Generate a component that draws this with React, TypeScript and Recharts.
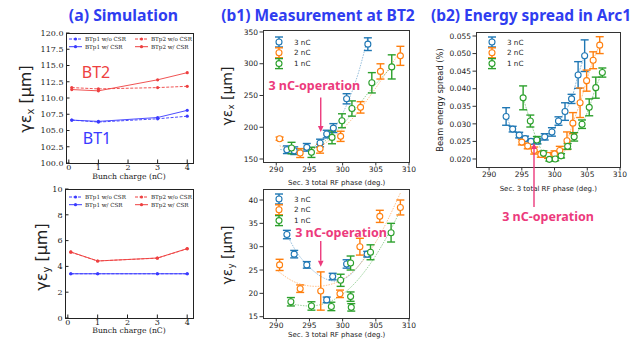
import React from 'react'
import {
  ComposedChart, Line, Scatter, ErrorBar, XAxis, YAxis, ReferenceLine,
} from 'recharts'

const W = 644
const H = 341

// ---- (a) simulation, x = bunch charge (nC)
const charge = [0.1, 1, 3, 4]
const exBT1NoCsr = [106.6, 106.3, 106.8, 107.2]
const exBT1Csr = [106.6, 106.4, 107.0, 108.1]
const exBT2NoCsr = [111.6, 111.4, 111.6, 111.8]
const exBT2Csr = [111.3, 111.1, 112.8, 113.9]
const eyBT1NoCsr = [3.43, 3.43, 3.43, 3.43]
const eyBT1Csr = [3.43, 3.43, 3.43, 3.43]
const eyBT2NoCsr = [5.1, 4.42, 4.64, 5.36]
const eyBT2Csr = [5.12, 4.42, 4.65, 5.38]

const aXTicks = [0, 1, 2, 3, 4]
const aTopYTicks = [100, 102.5, 105, 107.5, 110, 112.5, 115, 117.5, 120]
const aBotYTicks = [0, 2, 4, 6, 8, 10]

// ---- (b1) measured emittance at BT2, x = Sec. 3 total RF phase (deg.)
const phaseTicks = [290, 295, 300, 305, 310]
const exTicks = [150, 200, 250, 300, 350]
const eyTicks = [15, 20, 25, 30, 35, 40]
const dETicks = [0.02, 0.025, 0.03, 0.035, 0.04, 0.045, 0.05, 0.055]

const ex3Phase = [291.6, 292.7, 294.6, 296.6, 297.6, 298.6, 300.6, 303.8]
const ex3Val = [164.6, 163.1, 168.4, 175.2, 189.3, 198.7, 244.8, 330.8]
const ex3Err = [6, 6, 6, 6, 6, 7, 8, 10]
const ex2Phase = [290.5, 293.6, 296.6, 299.7, 302.7, 305.7, 308.7]
const ex2Val = [182, 159.4, 166.2, 185.7, 231.3, 287.9, 312.4]
const ex2Err = [2.5, 7, 7, 8, 9, 12, 15]
const ex1Phase = [292.3, 295.3, 298.4, 299.9, 301.4, 304.4, 307.4]
const ex1Val = [167.3, 160.5, 184, 210.2, 229.5, 270, 295]
const ex1Err = [9, 8, 10, 11, 12, 16, 19]

const ex3FitPhase = [290.6, 293, 295, 297, 299, 301, 302.5, 303.8]
const ex3FitVal = [165, 163, 167, 178, 203, 245, 290, 342]
const ex2FitPhase = [290.5, 293, 296, 299, 302, 305, 308.8]
const ex2FitVal = [171, 164, 168, 188, 220, 262, 322]
const ex1FitPhase = [292, 295, 298, 301, 304, 307.7]
const ex1FitVal = [165, 165, 184, 216, 256, 298]

const ey3Phase = [291.6, 292.7, 294.6, 297.6, 298.5, 300.6, 303.7]
const ey3Val = [32.6, 28.4, 26.1, 18.6, 23.6, 26.3, 28.4]
const ey3Err = [0.9, 0.8, 0.7, 0.6, 0.7, 0.9, 0.6]
const ey2Phase = [290.5, 293.6, 296.7, 299.6, 302.6, 305.6, 308.7]
const ey2Val = [26.1, 21.0, 20.5, 19.9, 30.0, 36.5, 38.4]
const ey2Err = [1.2, 0.8, 4.1, 0.8, 1.8, 1.3, 1.6]
const ey1Phase = [292.2, 295.3, 298.3, 299.7, 301.2, 301.2, 301.3, 304.2, 307.3]
const ey1Val = [18.2, 17.3, 17.2, 22.8, 26.5, 19.3, 17.0, 28.8, 33.0]
const ey1Err = [0.9, 0.9, 0.9, 1.3, 1.5, 1.0, 0.8, 1.6, 2.0]

const ey3FitPhase = [291.3, 293, 295, 297, 299, 301, 303.5]
const ey3FitVal = [33.5, 29.0, 25.6, 23.4, 22.6, 23.8, 28.0]
const ey2FitPhase = [290.3, 293, 296, 299, 302, 305, 308.7]
const ey2FitVal = [24.7, 22.3, 21.5, 22.3, 25.3, 31, 41.5]
const ey1FitPhase = [292, 295, 298, 301, 304, 307, 308.6]
const ey1FitVal = [17.8, 17.3, 18.2, 21.0, 26.0, 33.0, 37.5]

// ---- (b2) energy spread in Arc1 (%)
const de3Phase = [292.6, 293.6, 294.6, 295.5, 296.4, 297.4, 298.5, 299.6, 300.6, 301.6, 302.6, 303.6, 304.6]
const de3Val = [0.0321, 0.0285, 0.0268, 0.0258, 0.025, 0.0251, 0.0263, 0.0277, 0.0308, 0.0335, 0.0371, 0.0439, 0.0494]
const de3Err = [0.0025, 0.0008, 0.0008, 0.0007, 0.0007, 0.0008, 0.0009, 0.0012, 0.0012, 0.0025, 0.0013, 0.0038, 0.0045]
const de2Phase = [295.0, 295.9, 296.9, 297.9, 299.0, 300.0, 300.8, 301.9, 302.8, 303.9, 304.9, 305.9, 306.9]
const de2Val = [0.0248, 0.0237, 0.0224, 0.0213, 0.021, 0.0214, 0.0224, 0.0252, 0.0302, 0.036, 0.0423, 0.0481, 0.0524]
const de2Err = [0.0008, 0.0008, 0.001, 0.0008, 0.0008, 0.0009, 0.0012, 0.0025, 0.003, 0.0042, 0.003, 0.0024, 0.0024]
const de1Phase = [295.2, 296.3, 297.3, 298.3, 299.2, 300.1, 301.0, 302.0, 303.0, 304.2, 305.3, 306.3, 307.3]
const de1Val = [0.0374, 0.0308, 0.0254, 0.0216, 0.0199, 0.02, 0.0209, 0.0236, 0.0263, 0.0299, 0.0347, 0.0403, 0.0446]
const de1Err = [0.0034, 0.0017, 0.001, 0.0007, 0.0005, 0.0005, 0.0006, 0.0008, 0.0012, 0.0012, 0.0024, 0.003, 0.0013]

// 3 nC operating point arrows
const opPhaseB1 = 296.7

const BLUE_A = '#3a3aff'
const RED_A = '#ee4040'
const C3 = '#1f77b4'
const C2 = '#ff7f0e'
const C1 = '#2ca02c'
const PINK = '#ec3a7c'
const TITLE = '#2f3df0'

type Box = { l: number; t: number; r: number; b: number }
const fA1: Box = { l: 66, t: 33, r: 193, b: 163 }
const fA2: Box = { l: 65, t: 189, r: 193, b: 318 }
const fB1: Box = { l: 263, t: 30, r: 409, b: 162 }
const fB2: Box = { l: 263, t: 189, r: 409, b: 318 }
const fC: Box = { l: 476, t: 32, r: 620, b: 167 }

const YW = 30
const XH = 20
const margin = (f: Box) => ({ left: f.l - YW, top: f.t, right: W - f.r, bottom: H - f.b - XH })

const pts = (xs: number[], ys: number[], es?: number[]) =>
  xs.map((x, i) => ({ x, y: ys[i], e: es ? es[i] : 0 }))

const rowsA = (a: number[], b: number[], c: number[], d: number[]) =>
  charge.map((x, i) => ({ x, p1n: a[i], p1c: b[i], p2n: c[i], p2c: d[i] }))

const serifTick = { fontSize: 8, fill: '#222', fontFamily: 'DejaVu Serif' }
const sansTick = { fontSize: 7.5, fill: '#222', fontFamily: 'DejaVu Sans' }

const ring = (color: string) => (p: any) => (
  <circle cx={p.cx} cy={p.cy} r={3} fill="#fff" stroke={color} strokeWidth={1.1} />
)

const arrowPath = (x1: number, y1: number, x2: number, y2: number) => {
  const dir = y2 > y1 ? 1 : -1
  const base = y2 - dir * 6
  return (
    <g>
      <line x1={x1} y1={y1} x2={x2} y2={base} stroke={PINK} strokeWidth={1.4} />
      <polygon points={`${x2},${y2} ${x2 - 2.8},${base} ${x2 + 2.8},${base}`} fill={PINK} />
    </g>
  )
}
const arrow = (p: any) => arrowPath(p.x1, p.y1, p.x2, p.y2)

function Abs({ children }: { children: React.ReactNode }) {
  return <div style={{ position: 'absolute', left: 0, top: 0 }}>{children}</div>
}

function Frame({ f, color }: { f: Box; color: string }) {
  return (
    <div
      style={{
        position: 'absolute', left: f.l, top: f.t, width: f.r - f.l + 1, height: f.b - f.t + 1,
        border: `1px solid ${color}`, boxSizing: 'border-box', pointerEvents: 'none',
      }}
    />
  )
}

function Txt(props: {
  x: number; y: number; size: number; color?: string; weight?: number; family?: string; rot?: boolean
  children: React.ReactNode
}) {
  const { x, y, size, color = '#222', weight = 400, family = 'DejaVu Sans', rot } = props
  return (
    <div
      style={{
        position: 'absolute', left: x, top: y, fontSize: size, color, fontWeight: weight, fontFamily: family,
        lineHeight: 1, whiteSpace: 'nowrap',
        transform: `translate(-50%, -50%)${rot ? ' rotate(-90deg)' : ''}`,
      }}
    >
      {props.children}
    </div>
  )
}

function Emit({ axis }: { axis: string }) {
  return (
    <span>
      γε<sub style={{ fontSize: '0.62em', verticalAlign: '-0.25em' }}>{axis}</sub> [μm]
    </span>
  )
}

function SimPanel({ f, rows, domain, ticks, fmt }: {
  f: Box; rows: any[]; domain: [number, number]; ticks: number[]; fmt: (v: number) => string
}) {
  const lines = [
    { k: 'p1n', c: BLUE_A, dash: '3 1.5' },
    { k: 'p2n', c: RED_A, dash: '3 1.5' },
    { k: 'p1c', c: BLUE_A, dash: undefined },
    { k: 'p2c', c: RED_A, dash: undefined },
  ]
  return (
    <Abs>
      <ComposedChart width={W} height={H} data={rows} margin={margin(f)}>
        <XAxis type="number" dataKey="x" domain={[-0.095, 4.195]} ticks={aXTicks} allowDataOverflow
          axisLine={false} tickSize={-3.5} tickMargin={4.5} stroke="#222" tick={serifTick} height={XH} />
        <YAxis type="number" domain={domain} ticks={ticks} allowDataOverflow tickFormatter={fmt}
          axisLine={false} tickSize={-3.5} tickMargin={6} stroke="#222" tick={serifTick} width={YW} />
        {/* mirrored inward ticks on the top and right spines */}
        <XAxis xAxisId="top" orientation="top" type="number" dataKey="x" domain={[-0.095, 4.195]} ticks={aXTicks}
          allowDataOverflow axisLine={false} tickSize={-3.5} tickFormatter={() => ''} stroke="#222" height={0} />
        <YAxis yAxisId="right" orientation="right" type="number" domain={domain} ticks={ticks} allowDataOverflow
          axisLine={false} tickSize={-3.5} tickFormatter={() => ''} stroke="#222" width={0} />
        <Line xAxisId="top" yAxisId="right" dataKey="p1n" stroke="none" dot={false} isAnimationActive={false} />
        {lines.map((l) => (
          <Line key={l.k} dataKey={l.k} stroke={l.c} strokeWidth={1} strokeDasharray={l.dash} strokeOpacity={0.9}
            dot={{ r: 1.6, fill: l.c, stroke: l.c, strokeWidth: 0 }} isAnimationActive={false} />
        ))}
      </ComposedChart>
    </Abs>
  )
}

type Series = { color: string; data: { x: number; y: number; e: number }[]; fit: { x: number; y: number; e: number }[] }

function PhasePanel({ f, domain, ticks, fmt, series, arrowSeg, fitDash }: {
  f: Box; domain: [number, number]; ticks: number[]; fmt?: (v: number) => string
  series: Series[]; arrowSeg?: { x: number; y: number }[]; fitDash: string
}) {
  return (
    <Abs>
      <ComposedChart width={W} height={H} margin={margin(f)}>
        <XAxis type="number" dataKey="x" domain={[288, 310]} ticks={phaseTicks} allowDataOverflow
          axisLine={false} tickSize={3.5} tickMargin={1.5} stroke="#333" tick={sansTick} height={XH} />
        <YAxis type="number" dataKey="y" domain={domain} ticks={ticks} allowDataOverflow tickFormatter={fmt}
          axisLine={false} tickSize={3.5} tickMargin={1.5} stroke="#333" tick={sansTick} width={YW} />
        {series.map((s, i) => (
          <Line key={'f' + i} data={s.fit} dataKey="y" type="monotone" stroke={s.color} strokeOpacity={0.6}
            strokeWidth={0.8} strokeDasharray={fitDash} dot={false} isAnimationActive={false} />
        ))}
        {series.map((s, i) => (
          <Scatter key={'s' + i} data={s.data} dataKey="y" shape={ring(s.color)} isAnimationActive={false}>
            <ErrorBar dataKey="e" direction="y" width={4} stroke={s.color} strokeWidth={1.4} />
          </Scatter>
        ))}
        {arrowSeg && <ReferenceLine segment={arrowSeg} ifOverflow="visible" shape={arrow} />}
      </ComposedChart>
    </Abs>
  )
}

function ErrLegend({ x, y }: { x: number; y: number }) {
  const items = [
    { c: C3, t: '3 nC' },
    { c: C2, t: '2 nC' },
    { c: C1, t: '1 nC' },
  ]
  return (
    <svg style={{ position: 'absolute', left: x, top: y, overflow: 'visible' }} width={50} height={36}>
      {items.map((it, i) => {
        const cy = 5 + i * 10.8
        return (
          <g key={it.t}>
            <line x1={5} x2={5} y1={cy - 5} y2={cy + 5} stroke={it.c} strokeWidth={1.4} />
            <line x1={1} x2={9} y1={cy - 5} y2={cy - 5} stroke={it.c} strokeWidth={1.4} />
            <line x1={1} x2={9} y1={cy + 5} y2={cy + 5} stroke={it.c} strokeWidth={1.4} />
            <circle cx={5} cy={cy} r={3} fill="#fff" stroke={it.c} strokeWidth={1.1} />
            <text x={20} y={cy + 2.6} fontSize={7.2} fontFamily="DejaVu Sans" fill="#222">{it.t}</text>
          </g>
        )
      })}
    </svg>
  )
}

function SimLegend({ x, y }: { x: number; y: number }) {
  const items = [
    { c: BLUE_A, dash: '3 1.5', t: 'BTp1 w/o CSR', cx: 0, cy: 0 },
    { c: RED_A, dash: '3 1.5', t: 'BTp2 w/o CSR', cx: 66, cy: 0 },
    { c: BLUE_A, dash: undefined, t: 'BTp1 w/ CSR', cx: 0, cy: 7.7 },
    { c: RED_A, dash: undefined, t: 'BTp2 w/ CSR', cx: 66, cy: 7.7 },
  ]
  return (
    <svg style={{ position: 'absolute', left: x, top: y, overflow: 'visible' }} width={130} height={14}>
      {items.map((it) => (
        <g key={it.t}>
          <line x1={it.cx} x2={it.cx + 13} y1={it.cy} y2={it.cy} stroke={it.c} strokeWidth={1} strokeDasharray={it.dash} />
          <circle cx={it.cx + 6.5} cy={it.cy} r={1.6} fill={it.c} />
          <text x={it.cx + 16} y={it.cy + 2} fontSize={5.6} fontFamily="DejaVu Serif" fill="#222">{it.t}</text>
        </g>
      ))}
    </svg>
  )
}

export default function App() {
  const b1Top: Series[] = [
    { color: C3, data: pts(ex3Phase, ex3Val, ex3Err), fit: pts(ex3FitPhase, ex3FitVal) },
    { color: C2, data: pts(ex2Phase, ex2Val, ex2Err), fit: pts(ex2FitPhase, ex2FitVal) },
    { color: C1, data: pts(ex1Phase, ex1Val, ex1Err), fit: pts(ex1FitPhase, ex1FitVal) },
  ]
  const b1Bot: Series[] = [
    { color: C3, data: pts(ey3Phase, ey3Val, ey3Err), fit: pts(ey3FitPhase, ey3FitVal) },
    { color: C2, data: pts(ey2Phase, ey2Val, ey2Err), fit: pts(ey2FitPhase, ey2FitVal) },
    { color: C1, data: pts(ey1Phase, ey1Val, ey1Err), fit: pts(ey1FitPhase, ey1FitVal) },
  ]
  const b2: Series[] = [
    { color: C3, data: pts(de3Phase, de3Val, de3Err), fit: pts(de3Phase, de3Val) },
    { color: C2, data: pts(de2Phase, de2Val, de2Err), fit: pts(de2Phase, de2Val) },
    { color: C1, data: pts(de1Phase, de1Val, de1Err), fit: pts(de1Phase, de1Val) },
  ]

  return (
    <div style={{ position: 'absolute', left: 0, top: 0, width: W, height: H, background: '#fff', overflow: 'hidden' }}>
      {/* titles */}
      <Txt x={123.5} y={15.5} size={15.8} color={TITLE} weight={700} family="Noto Sans">(a) Simulation</Txt>
      <Txt x={318} y={15.5} size={15.5} color={TITLE} weight={700} family="Noto Sans">(b1) Measurement at BT2</Txt>
      <Txt x={531} y={15.5} size={15.5} color={TITLE} weight={700} family="Noto Sans">(b2) Energy spread in Arc1</Txt>

      {/* (a) */}
      <SimPanel f={fA1} rows={rowsA(exBT1NoCsr, exBT1Csr, exBT2NoCsr, exBT2Csr)} domain={[100, 120]}
        ticks={aTopYTicks} fmt={(v) => v.toFixed(1)} />
      <SimPanel f={fA2} rows={rowsA(eyBT1NoCsr, eyBT1Csr, eyBT2NoCsr, eyBT2Csr)} domain={[0, 10]}
        ticks={aBotYTicks} fmt={(v) => String(v)} />
      <Frame f={fA1} color="#222" />
      <Frame f={fA2} color="#222" />
      <SimLegend x={69} y={39} />
      <SimLegend x={69} y={196.7} />
      <Txt x={96} y={72} size={16} color={RED_A} family="Noto Sans">BT2</Txt>
      <Txt x={97} y={138} size={16} color={BLUE_A} family="Noto Sans">BT1</Txt>
      <Txt x={27} y={99} size={16} rot><Emit axis="x" /></Txt>
      <Txt x={43} y={256.5} size={16} rot><Emit axis="y" /></Txt>
      <Txt x={129} y={176.5} size={7.7} family="DejaVu Serif">Bunch charge (nC)</Txt>
      <Txt x={129} y={330.7} size={7.7} family="DejaVu Serif">Bunch charge (nC)</Txt>

      {/* (b1) */}
      <PhasePanel f={fB1} domain={[145.3, 353.1]} ticks={exTicks} series={b1Top} fitDash="1.5 1.2"
        arrowSeg={[{ x: opPhaseB1, y: 247 }, { x: opPhaseB1, y: 192.5 }]} />
      <PhasePanel f={fB2} domain={[14.72, 42.36]} ticks={eyTicks} series={b1Bot} fitDash="1.5 1.2"
        arrowSeg={[{ x: opPhaseB1, y: 31.2 }, { x: opPhaseB1, y: 25.7 }]} />
      <Frame f={fB1} color="#333" />
      <Frame f={fB2} color="#333" />
      <ErrLegend x={273.7} y={37} />
      <ErrLegend x={273.7} y={194} />
      <Txt x={228.3} y={96} size={14} rot><Emit axis="x" /></Txt>
      <Txt x={228.3} y={255} size={14} rot><Emit axis="y" /></Txt>
      <Txt x={336.7} y={183.3} size={7}>Sec. 3 total RF phase (deg.)</Txt>
      <Txt x={336.7} y={335} size={7}>Sec. 3 total RF phase (deg.)</Txt>
      <Txt x={314.3} y={85.7} size={12.5} color={PINK} weight={700} family="Noto Sans">3 nC-operation</Txt>
      <Txt x={341} y={233.3} size={12.5} color={PINK} weight={700} family="Noto Sans">3 nC-operation</Txt>

      {/* (b2) */}
      <PhasePanel f={fC} domain={[0.01772, 0.05614]} ticks={dETicks} fmt={(v) => v.toFixed(3)} series={b2}
        fitDash="2 1" />
      <Frame f={fC} color="#333" />
      <ErrLegend x={486.7} y={37} />
      <Txt x={440} y={100} size={8.3} rot>Beam energy spread (%)</Txt>
      <Txt x={548.3} y={189} size={7}>Sec. 3 total RF phase (deg.)</Txt>
      {/* annotation arrow from the label up to the 3 nC point */}
      <svg style={{ position: 'absolute', left: 0, top: 0, overflow: 'visible' }} width={W} height={H}>
        {arrowPath(534, 207, 534, 143)}
      </svg>
      <Txt x={548} y={217.3} size={12.5} color={PINK} weight={700} family="Noto Sans">3 nC-operation</Txt>
    </div>
  )
}
